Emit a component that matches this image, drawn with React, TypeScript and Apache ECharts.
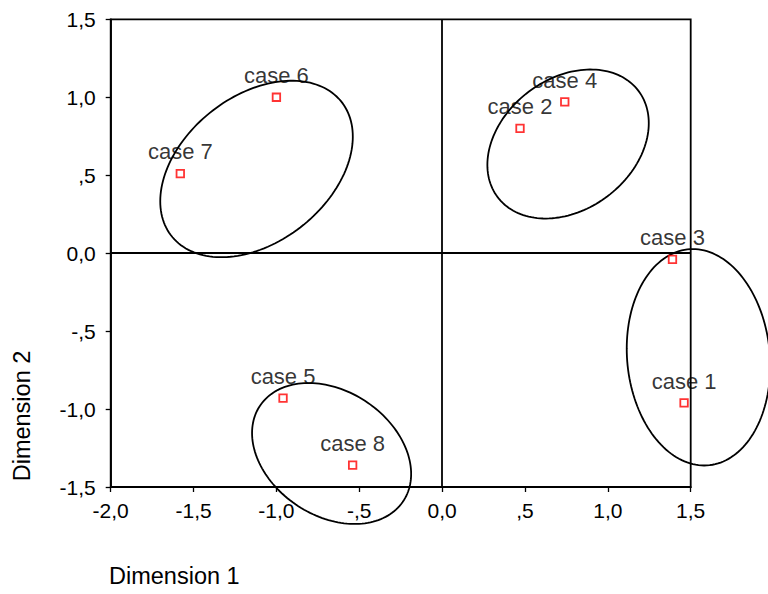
import React, { useEffect, useRef } from "react";
import * as echarts from "echarts";

// Case coordinates (object points)
const caseNames = ["case 1", "case 2", "case 3", "case 4", "case 5", "case 6", "case 7", "case 8"];
const dimension1 = [1.46, 0.47, 1.39, 0.74, -0.96, -1.0, -1.58, -0.54];
const dimension2 = [-0.96, 0.8, -0.04, 0.97, -0.93, 1.0, 0.51, -1.36];

// Axis ticks
const xTickValues = [-2, -1.5, -1, -0.5, 0, 0.5, 1, 1.5];
const xTickLabels = ["-2,0", "-1,5", "-1,0", "-,5", "0,0", ",5", "1,0", "1,5"];
const yTickValues = [-1.5, -1, -0.5, 0, 0.5, 1, 1.5];
const yTickLabels = ["-1,5", "-1,0", "-,5", "0,0", ",5", "1,0", "1,5"];

// Cluster ellipses (data units): centre, half-width, half-height, tilt (correlation)
const ellipseCenterX = [-1.12, 0.76, 1.547, -0.667];
const ellipseCenterY = [0.54, 0.70, -0.668, -1.285];
const ellipseHalfWidth = [0.581, 0.487, 0.433, 0.48];
const ellipseHalfHeight = [0.566, 0.478, 0.694, 0.452];
const ellipseTilt = [0.366, 0.28, -0.08, -0.29];

const FONT = "'Liberation Sans', Arial, sans-serif";

function labelFor(values: number[], labels: string[], v: number) {
  const i = values.findIndex((t) => Math.abs(t - v) < 1e-6);
  return i >= 0 ? labels[i] : "";
}

export default function App() {
  const ref = useRef<HTMLDivElement>(null);

  useEffect(() => {
    if (!ref.current) return;
    const chart = echarts.init(ref.current, undefined, { renderer: "svg" });

    const points = dimension1.map((x, i) => [x, dimension2[i]]);
    const ellipses = ellipseCenterX.map((cx, i) => [
      cx,
      ellipseCenterY[i],
      ellipseHalfWidth[i],
      ellipseHalfHeight[i],
      ellipseTilt[i],
    ]);

    chart.setOption({
      animation: false,
      backgroundColor: "#ffffff",
      grid: {
        left: 110.7,
        right: 77.3,
        top: 19.3,
        bottom: 107,
        show: true,
        borderColor: "#000",
        borderWidth: 1.8,
        outerBoundsMode: "none",
      },
      xAxis: {
        type: "value",
        min: -2,
        max: 1.5,
        interval: 0.5,
        axisLine: { show: true, onZero: false, lineStyle: { color: "#000", width: 1.8 } },
        axisTick: { show: true, length: 5, lineStyle: { color: "#000", width: 1.3 } },
        axisLabel: {
          color: "#000",
          fontSize: 21,
          fontFamily: FONT,
          margin: 13,
          formatter: (v: number) => labelFor(xTickValues, xTickLabels, v),
        },
        splitLine: { show: false },
      },
      yAxis: {
        type: "value",
        min: -1.5,
        max: 1.5,
        interval: 0.5,
        axisLine: { show: true, onZero: false, lineStyle: { color: "#000", width: 1.8 } },
        axisTick: { show: true, length: 5, lineStyle: { color: "#000", width: 1.3 } },
        axisLabel: {
          color: "#000",
          fontSize: 21,
          fontFamily: FONT,
          margin: 15,
          formatter: (v: number) => labelFor(yTickValues, yTickLabels, v),
        },
        splitLine: { show: false },
      },
      graphic: [
        {
          type: "text",
          left: 109,
          top: 564,
          style: { text: "Dimension 1", fontSize: 23.5, fontFamily: FONT, fill: "#000" },
        },
        {
          type: "text",
          x: 22,
          y: 416,
          rotation: Math.PI / 2,
          style: {
            text: "Dimension 2",
            fontSize: 23.5,
            fontFamily: FONT,
            fill: "#000",
            align: "center",
            verticalAlign: "middle",
          },
        },
      ],
      series: [
        {
          type: "custom",
          coordinateSystem: "cartesian2d",
          clip: false,
          silent: true,
          z: 3,
          data: ellipses,
          encode: { x: 0, y: 1 },
          renderItem: (params: any, api: any) => {
            const cx = api.value(0);
            const cy = api.value(1);
            const w = api.value(2);
            const h = api.value(3);
            const r = api.value(4);
            const s = Math.sqrt(1 - r * r);
            const pts: number[][] = [];
            const n = 160;
            for (let k = 0; k <= n; k++) {
              const t = (k / n) * Math.PI * 2;
              pts.push(
                api.coord([cx + w * Math.cos(t), cy + h * (r * Math.cos(t) + s * Math.sin(t))])
              );
            }
            return {
              type: "polygon",
              shape: { points: pts },
              style: { fill: "none", stroke: "#000", lineWidth: 1.8 },
            };
          },
        },
        {
          type: "scatter",
          z: 4,
          data: points,
          symbol: "rect",
          symbolSize: 7.5,
          itemStyle: { color: "#fff", borderColor: "#ff0000", borderWidth: 1.8 },
          label: {
            show: true,
            position: "top",
            distance: 6,
            color: "#000",
            fontSize: 22,
            fontFamily: FONT,
            formatter: (p: any) => caseNames[p.dataIndex],
          },
          markLine: {
            silent: true,
            symbol: ["none", "none"],
            label: { show: false },
            lineStyle: { color: "#000", width: 1.8, type: "solid" },
            data: [{ xAxis: 0 }, { yAxis: 0 }],
          },
        },
      ],
    });

    return () => chart.dispose();
  }, []);

  return (
    <div
      ref={ref}
      style={{ position: "absolute", left: 0, top: 0, width: 768, height: 594 }}
    />
  );
}
